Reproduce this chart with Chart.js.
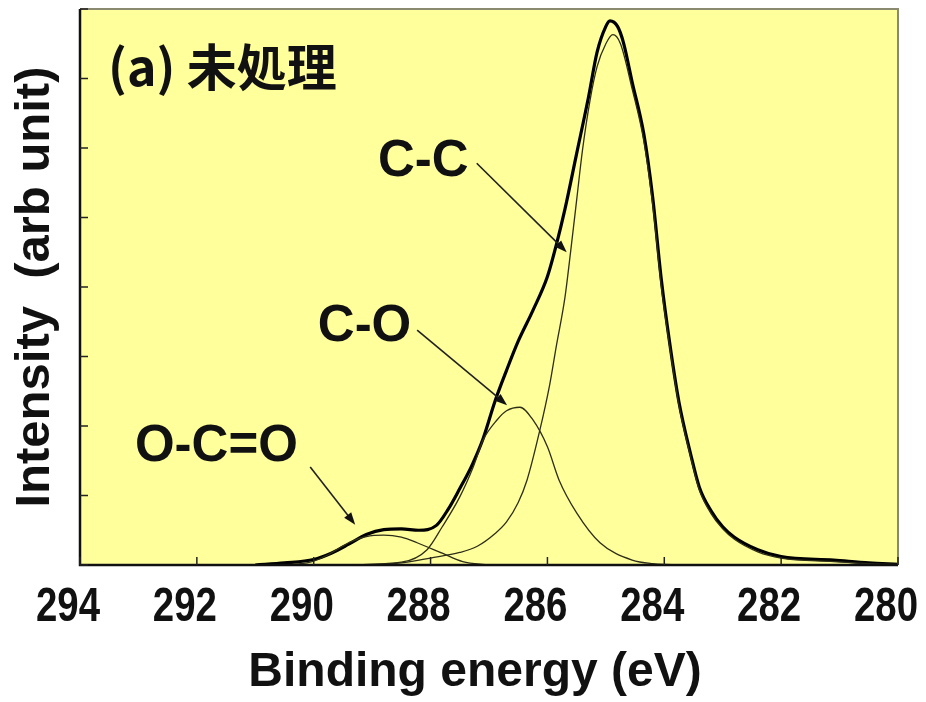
<!DOCTYPE html>
<html>
<head>
<meta charset="utf-8">
<script src="https://cdn.jsdelivr.net/npm/chart.js@4/dist/chart.umd.min.js"></script>
<style>
  html, body { margin: 0; padding: 0; background: #fff; }
  #wrap { width: 926px; height: 702px; }
</style>
</head>
<body>
<div id="wrap"><canvas id="xps"></canvas></div>
<script>
// --- DATA (binding energy in eV, intensity in arb. units) ---
const envelopeEnergy = [291.0, 290.5, 290.0, 289.7, 289.4, 289.1, 288.8, 288.5, 288.2, 287.9, 287.7, 287.5, 287.3, 287.1, 286.9, 286.7, 286.5, 286.25, 286.0, 285.85, 285.7, 285.5, 285.3, 285.15, 285.0, 284.93, 284.8, 284.7, 284.55, 284.35, 284.2, 284.05, 283.9, 283.75, 283.55, 283.4, 283.2, 283.0, 282.8, 282.4, 282.0, 281.1, 280.5, 280.0];
const envelopeValues = [0.0, 0.03, 0.08, 0.17, 0.30, 0.44, 0.51, 0.52, 0.50, 0.57, 0.80, 1.10, 1.42, 1.82, 2.35, 2.80, 3.22, 3.66, 4.15, 4.60, 5.12, 5.92, 6.72, 7.38, 7.75, 7.83, 7.75, 7.52, 6.95, 6.20, 5.30, 4.10, 3.15, 2.35, 1.60, 1.12, 0.78, 0.55, 0.40, 0.22, 0.12, 0.07, 0.03, 0.01];

const ccEnergy = [289.5, 288.5, 288.0, 287.5, 287.2, 286.9, 286.7, 286.5, 286.35, 286.13, 285.96, 285.85, 285.7, 285.6, 285.5, 285.4, 285.27, 285.15, 285.0, 284.88, 284.75, 284.55, 284.35, 284.2, 284.05, 283.9, 283.75, 283.55, 283.4, 283.2, 283.0, 282.8, 282.4, 282.0, 281.1, 280.5, 280.0];
const ccValues = [0.0, 0.03, 0.10, 0.18, 0.27, 0.45, 0.62, 0.90, 1.22, 1.94, 2.60, 3.14, 3.85, 4.53, 5.25, 5.97, 6.69, 7.17, 7.50, 7.63, 7.50, 6.85, 6.10, 5.20, 4.00, 3.10, 2.30, 1.56, 1.08, 0.74, 0.52, 0.37, 0.19, 0.10, 0.05, 0.02, 0.01];

const coEnergy = [289.5, 288.5, 288.06, 287.8, 287.5, 287.27, 287.1, 286.86, 286.7, 286.47, 286.25, 286.0, 285.8, 285.5, 285.1, 284.55, 284.2, 283.5];
const coValues = [0.0, 0.04, 0.22, 0.55, 0.98, 1.41, 1.80, 2.09, 2.22, 2.27, 2.09, 1.70, 1.22, 0.75, 0.32, 0.07, 0.02, 0.0];

const ocoEnergy = [290.5, 290.06, 289.77, 289.38, 289.1, 288.8, 288.5, 288.23, 287.8, 287.45, 287.0];
const ocoValues = [0.0, 0.04, 0.14, 0.33, 0.41, 0.43, 0.40, 0.32, 0.17, 0.05, 0.0];

const energyTicks = [294, 292, 290, 288, 286, 284, 282, 280];
const xTitle = 'Binding energy (eV)';
const yTitle = 'Intensity  (arb unit)';

const pts = (xs, ys) => xs.map((x, i) => ({ x: x, y: ys[i] }));

// --- PLUGINS ---
const plotFrame = {
    id: 'plotFrame',
    beforeDraw(chart) {
        const { ctx, chartArea: a } = chart;
        ctx.save();
        ctx.fillStyle = '#ffff9c';
        ctx.fillRect(a.left, a.top, a.right - a.left, a.bottom - a.top);
        ctx.restore();
    },
    afterDatasetsDraw(chart) {
        const { ctx, chartArea: a, scales } = chart;
        ctx.save();
        // top + right border, light grey
        ctx.strokeStyle = '#8a8a70';
        ctx.lineWidth = 2;
        ctx.beginPath();
        ctx.moveTo(a.left, a.top);
        ctx.lineTo(a.right, a.top);
        ctx.lineTo(a.right, a.bottom);
        ctx.stroke();
        // left + bottom axis, dark
        ctx.strokeStyle = '#111';
        ctx.lineWidth = 2.5;
        ctx.beginPath();
        ctx.moveTo(a.left, a.top);
        ctx.lineTo(a.left, a.bottom);
        ctx.lineTo(a.right, a.bottom);
        ctx.stroke();
        // inner tick marks
        ctx.lineWidth = 1.5;
        ctx.strokeStyle = '#222';
        scales.x.ticks.forEach(t => {
            const px = scales.x.getPixelForValue(t.value);
            ctx.beginPath();
            ctx.moveTo(px, a.bottom);
            ctx.lineTo(px, a.bottom - 8);
            ctx.stroke();
        });
        scales.y.ticks.forEach(t => {
            const py = scales.y.getPixelForValue(t.value);
            ctx.beginPath();
            ctx.moveTo(a.left, py);
            ctx.lineTo(a.left + 8, py);
            ctx.stroke();
        });
        // x tick labels, narrow face (no condensed font installed, so squeeze it)
        ctx.fillStyle = '#111';
        ctx.font = 'bold 48px "Liberation Sans", Arial, sans-serif';
        ctx.textAlign = 'center';
        ctx.textBaseline = 'middle';
        scales.x.ticks.forEach(t => {
            const px = scales.x.getPixelForValue(t.value) - 12;
            ctx.save();
            ctx.translate(px, a.bottom + 43);
            ctx.scale(0.8, 1);
            ctx.fillText(String(t.value), 0, 0);
            ctx.restore();
        });
        // x axis title, sits a little left of the plot centre in the original
        ctx.font = 'bold 48px "Liberation Sans", Arial, sans-serif';
        ctx.fillText(xTitle, (a.left + a.right) / 2 - 14, a.bottom + 108);
        ctx.restore();
    }
};

// labels and arrows, placed in data coordinates
const notes = [
    { text: '(a) 未処理', at: [293.52, 7.17], font: 'bold 50px "Noto Sans CJK JP", "Liberation Sans", sans-serif' },
    { text: 'C-C', at: [288.90, 5.80], from: [287.21, 5.78], to: [285.67, 4.50] },
    { text: 'C-O', at: [289.93, 3.42], from: [288.23, 3.38], to: [286.69, 2.30] },
    { text: 'O-C=O', at: [293.06, 1.70], from: [290.06, 1.41], to: [289.29, 0.58] }
];

const annotations = {
    id: 'annotations',
    afterDraw(chart) {
        const { ctx, scales: { x, y } } = chart;
        ctx.save();
        notes.forEach(n => {
            ctx.fillStyle = '#111';
            ctx.font = n.font || 'bold 51px "Liberation Sans", Arial, sans-serif';
            ctx.textBaseline = 'middle';
            ctx.textAlign = 'left';
            ctx.fillText(n.text, x.getPixelForValue(n.at[0]), y.getPixelForValue(n.at[1]));
            if (!n.from) return;
            const x0 = x.getPixelForValue(n.from[0]), y0 = y.getPixelForValue(n.from[1]);
            const x1 = x.getPixelForValue(n.to[0]), y1 = y.getPixelForValue(n.to[1]);
            const ang = Math.atan2(y1 - y0, x1 - x0);
            const head = 13;
            ctx.strokeStyle = '#222';
            ctx.lineWidth = 1.6;
            ctx.beginPath();
            ctx.moveTo(x0, y0);
            ctx.lineTo(x1 - Math.cos(ang) * head * 0.8, y1 - Math.sin(ang) * head * 0.8);
            ctx.stroke();
            ctx.beginPath();
            ctx.moveTo(x1, y1);
            ctx.lineTo(x1 - head * Math.cos(ang - 0.35), y1 - head * Math.sin(ang - 0.35));
            ctx.lineTo(x1 - head * Math.cos(ang + 0.35), y1 - head * Math.sin(ang + 0.35));
            ctx.closePath();
            ctx.fillStyle = '#111';
            ctx.fill();
        });
        ctx.restore();
    }
};

// --- CHART ---
const thin = { borderColor: '#2e2e18', borderWidth: 1.3, pointRadius: 0, fill: false, cubicInterpolationMode: 'monotone' };

new Chart(document.getElementById('xps'), {
    type: 'line',
    data: {
        datasets: [
            Object.assign({ label: 'O-C=O', data: pts(ocoEnergy, ocoValues) }, thin),
            Object.assign({ label: 'C-O', data: pts(coEnergy, coValues) }, thin),
            Object.assign({ label: 'C-C', data: pts(ccEnergy, ccValues) }, thin),
            { label: 'envelope', data: pts(envelopeEnergy, envelopeValues), borderColor: '#000', borderWidth: 3.2,
              pointRadius: 0, fill: false, cubicInterpolationMode: 'monotone' }
        ]
    },
    options: {
        responsive: true,
        maintainAspectRatio: false,
        devicePixelRatio: 1,
        animation: false,
        layout: { padding: { top: 9, right: 28, left: 0, bottom: 0 } },
        plugins: { legend: { display: false }, tooltip: { enabled: false } },
        scales: {
            x: {
                type: 'linear',
                reverse: true,
                min: 280,
                max: 294,
                afterBuildTicks: s => { s.ticks = energyTicks.map(v => ({ value: v })); },
                afterFit: s => { s.height = 137; s.paddingLeft = 0; s.paddingRight = 0; },
                grid: { display: false, drawTicks: false },
                border: { display: false },
                ticks: { display: false },
                title: { display: false }
            },
            y: {
                min: 0,
                max: 8,
                ticks: { stepSize: 1, display: false },
                afterFit: s => { s.width = 80; s.paddingTop = 0; s.paddingBottom = 0; },
                grid: { display: false, drawTicks: false },
                border: { display: false },
                title: {
                    display: true,
                    text: yTitle,
                    color: '#111',
                    padding: { top: 6, bottom: 0 },
                    font: { family: '"Liberation Sans", Arial, sans-serif', size: 49, weight: 'bold', lineHeight: 1.2 }
                }
            }
        }
    },
    plugins: [plotFrame, annotations]
});
</script>
</body>
</html>
